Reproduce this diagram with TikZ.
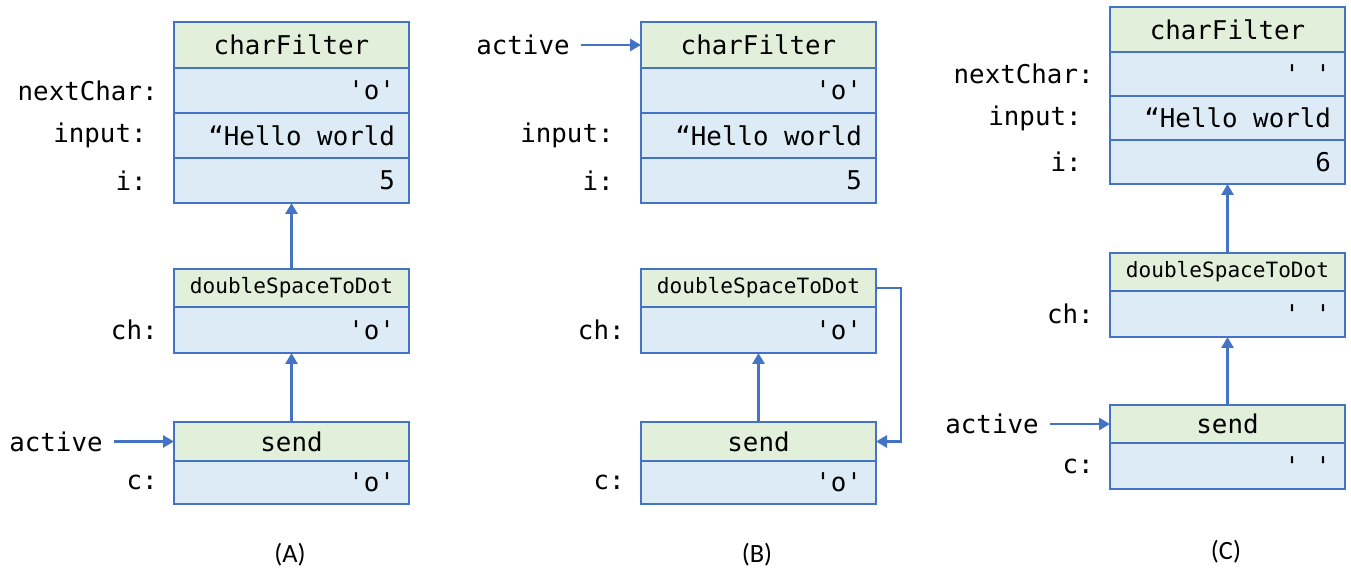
\documentclass[tikz,border=0pt]{standalone}
\usepackage{fontspec}
\setmonofont{DejaVu Sans Mono}
\newfontfamily\capfont{Carlito}
\usetikzlibrary{positioning}
\usetikzlibrary{arrows.meta}
\usepackage{xcolor}
\definecolor{boxblue}{HTML}{4472C4}
\definecolor{hdrgreen}{HTML}{E2EFDA}
\definecolor{cellblue}{HTML}{DDEBF7}
% one full-width space of the mono font
\newcommand{\monospc}{\hspace*{0.602em}}
\tikzset{
  hdr/.style={draw=boxblue, line width=1pt, fill=hdrgreen, minimum width=4.7cm, inner sep=0pt, outer sep=0pt, font=\ttfamily\fontsize{14.7}{18}\selectfont},
  smallhdr/.style={hdr, minimum height=0.76cm, font=\ttfamily\fontsize{12}{14}\selectfont},
  cell/.style={draw=boxblue, line width=1pt, fill=cellblue, text width=4.14cm, inner xsep=0.28cm, inner ysep=0pt, outer sep=0pt, align=right, minimum height=0.9cm, font=\ttfamily\fontsize{14.7}{18}\selectfont},
  lbl/.style={inner sep=0pt, font=\ttfamily\fontsize{14.7}{18}\selectfont},
  flow/.style={-{Triangle[length=0.22cm,width=0.24cm]}, draw=boxblue, line width=1.6pt},
  figcap/.style={font=\capfont\fontsize{15}{18}\selectfont}
}
\begin{document}
\begin{tikzpicture}
            \useasboundingbox (0,0) rectangle (27.02,11.38);
            % (A) send is active
            \node[hdr, minimum height=0.92cm] (cfA) at (5.83,10.48) {charFilter};
            \node[cell, below=0pt of cfA] (ncA) {'o'};
            \node[cell, below=0pt of ncA] (inA) {“Hello\monospc world};
            \node[cell, below=0pt of inA] (iA) {5};
            \node[lbl, left=0.32cm of ncA] (ncAl) {nextChar:};
            \node[lbl, left=0.54cm of inA] (inAl) {input:};
            \node[lbl, left=0.54cm of iA] (iAl) {i:};
            \node[smallhdr] (dA) at (5.83,5.62) {doubleSpaceToDot};
            \node[cell, below=0pt of dA, minimum height=0.92cm] (chA) {'o'};
            \node[lbl, left=0.32cm of chA] (chAl) {ch:};
            \node[hdr, minimum height=0.78cm] (sA) at (5.83,2.55) {send};
            \node[cell, below=0pt of sA, minimum height=0.86cm] (cA) {'o'};
            \node[lbl, left=0.32cm of cA] (cAl) {c:};
            \node[lbl, inner xsep=0.22cm, left=1.2cm of sA] (actA) {active};
            \node[figcap] (capA) at (5.8,0.28) {(A)};

            \draw[flow] (actA) -- (sA);
            \draw[flow] (sA) -- (chA);
            \draw[flow] (dA) -- (iA);

            % (B) charFilter is active
            \node[hdr, minimum height=0.92cm] (cfB) at (15.17,10.48) {charFilter};
            \node[cell, below=0pt of cfB] (ncB) {'o'};
            \node[cell, below=0pt of ncB] (inB) {“Hello\monospc world};
            \node[cell, below=0pt of inB] (iB) {5};
            \node[lbl, left=0.54cm of inB] (inBl) {input:};
            \node[lbl, left=0.54cm of iB] (iBl) {i:};
            \node[smallhdr] (dB) at (15.17,5.62) {doubleSpaceToDot};
            \node[cell, below=0pt of dB, minimum height=0.92cm] (chB) {'o'};
            \node[lbl, left=0.32cm of chB] (chBl) {ch:};
            \node[hdr, minimum height=0.78cm] (sB) at (15.17,2.55) {send};
            \node[cell, below=0pt of sB, minimum height=0.86cm] (cB) {'o'};
            \node[lbl, left=0.32cm of cB] (cBl) {c:};
            \node[lbl, inner xsep=0.22cm, left=1.2cm of cfB] (actB) {active};
            \node[figcap] (capB) at (15.14,0.28) {(B)};

            \draw[flow] (actB) -- (cfB);
            \draw[flow] (sB) -- (chB);
            \draw[flow] (dB.east) -- ++(0.5,0) |- (sB.east);

            % (C) next character
            \node[hdr, minimum height=0.9cm] (cfC) at (24.55,10.79) {charFilter};
            \node[cell, below=0pt of cfC, minimum height=0.88cm] (ncC) {'\monospc'};
            \node[cell, below=0pt of ncC, minimum height=0.88cm] (inC) {“Hello\monospc world};
            \node[cell, below=0pt of inC, minimum height=0.88cm] (iC) {6};
            \node[lbl, left=0.32cm of ncC] (ncCl) {nextChar:};
            \node[lbl, left=0.56cm of inC] (inCl) {input:};
            \node[lbl, left=0.56cm of iC] (iCl) {i:};
            \node[smallhdr] (dC) at (24.55,5.94) {doubleSpaceToDot};
            \node[cell, below=0pt of dC, minimum height=0.92cm] (chC) {'\monospc'};
            \node[lbl, left=0.32cm of chC] (chCl) {ch:};
            \node[hdr, minimum height=0.76cm] (sC) at (24.55,2.9) {send};
            \node[cell, below=0pt of sC, minimum height=0.92cm] (cC) {'\monospc'};
            \node[lbl, left=0.32cm of cC] (cCl) {c:};
            \node[lbl, inner xsep=0.22cm, left=1.2cm of sC] (actC) {active};
            \node[figcap] (capC) at (24.52,0.34) {(C)};

            \draw[flow] (actC) -- (sC);
            \draw[flow] (sC) -- (chC);
            \draw[flow] (dC) -- (iC);
        \end{tikzpicture}
\end{document}
